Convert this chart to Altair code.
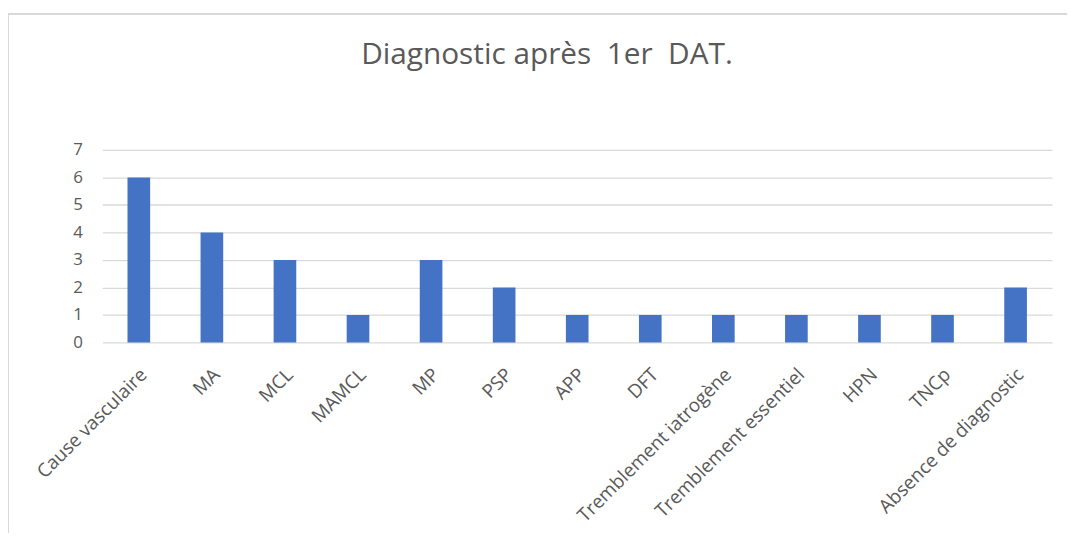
import altair as alt
import pandas as pd

categories = ["Cause vasculaire", "MA", "MCL", "MAMCL", "MP", "PSP", "APP", "DFT",
              "Tremblement iatrogène", "Tremblement essentiel", "HPN", "TNCp",
              "Absence de diagnostic"]
values = [6, 4, 3, 1, 3, 2, 1, 1, 1, 1, 1, 1, 2]
y_ticks = [0, 1, 2, 3, 4, 5, 6, 7]
title_text = "Diagnostic après \u00a01er \u00a0DAT."

df = pd.DataFrame({"cat": categories, "val": values})

FONT = "Open Sans"
GRAY = "#595959"

bars = alt.Chart(df).mark_bar(color="#4472C4").encode(
    x=alt.X("cat:N", sort=categories,
            scale=alt.Scale(paddingInner=0.69, paddingOuter=0.345),
            axis=alt.Axis(title=None, labelAngle=-45, labelAlign="right",
                          labelBaseline="middle", labelPadding=29, labelOffset=5,
                          ticks=False, domain=False, labelFont=FONT,
                          labelFontSize=19, labelColor=GRAY, labelLimit=400)),
    y=alt.Y("val:Q", scale=alt.Scale(domain=[0, 7], nice=False),
            axis=alt.Axis(title=None, values=y_ticks, ticks=False, domain=False,
                          labelPadding=20, labelFont=FONT, labelFontSize=17,
                          labelColor=GRAY, gridColor="#d9d9d9", gridWidth=1.3)),
)

one = pd.DataFrame({"t": [title_text]})
title_mark = alt.Chart(one).mark_text(
    font=FONT, fontSize=30, color=GRAY, align="center", baseline="alphabetic").encode(
    text="t:N", x=alt.value(448), y=alt.value(-87))

frame_top = alt.Chart(pd.DataFrame({"a": [0]})).mark_rule(
    color="#d9d9d9", strokeWidth=2).encode(
    x=alt.value(-95), x2=alt.value(1000), y=alt.value(-137))
frame_left = alt.Chart(pd.DataFrame({"a": [0]})).mark_rule(
    color="#d9d9d9", strokeWidth=2).encode(
    x=alt.value(-95), y=alt.value(-137), y2=alt.value(600))

chart = alt.layer(bars, title_mark, frame_top, frame_left).properties(
    width=957, height=194,
    autosize=alt.AutoSizeParams(type="none"),
    padding={"left": 95, "top": 141, "right": 15, "bottom": 190},
).configure_view(stroke=None)

chart.save("out.html", embed_options={"renderer": "svg", "actions": False})
